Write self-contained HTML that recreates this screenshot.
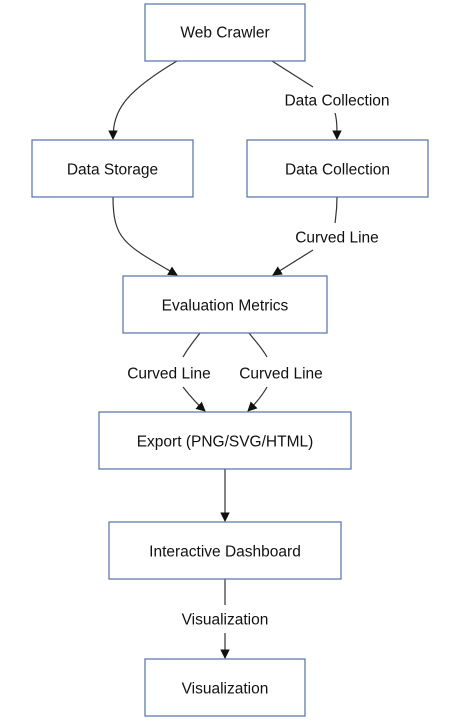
<!DOCTYPE html>
<html><head><meta charset="utf-8"><style>
html,body{margin:0;padding:0;background:#fff;}
svg{display:block;}
text{font-family:"Liberation Sans","DejaVu Sans",sans-serif;font-size:15.5px;fill:#111;text-anchor:middle;dominant-baseline:central;}
rect{fill:#fff;stroke:#5470a8;stroke-width:1.2;}
path.e{fill:none;stroke:#333;stroke-width:1.2;}
</style></head><body>
<svg width="472" height="726" viewBox="0 0 472 726">
<defs><marker id="a" viewBox="0 0 10 10" refX="9" refY="5" markerWidth="8" markerHeight="8" orient="auto"><path d="M0,0L10,5L0,10z" fill="#111"/></marker></defs>
<path class="e" d="M177,61 C125,92 113,110 113,139" marker-end="url(#a)"/>
<path class="e" d="M272,61 L313,87"/>
<path class="e" d="M335,113 C337,120 337,128 337,139" marker-end="url(#a)"/>
<path class="e" d="M113,197 C113,240 125,245 177,275" marker-end="url(#a)"/>
<path class="e" d="M337,197 C337,210 336,215 335,223"/>
<path class="e" d="M313,250 L273,275" marker-end="url(#a)"/>
<path class="e" d="M200,333 C193,342 188,348 183,357"/>
<path class="e" d="M183,387 C190,396 196,403 205,411" marker-end="url(#a)"/>
<path class="e" d="M249,333 C256,342 262,348 267,357"/>
<path class="e" d="M267,387 C262,396 256,403 248,411" marker-end="url(#a)"/>
<path class="e" d="M225,469 L225,521" marker-end="url(#a)"/>
<path class="e" d="M225,579 L225,605"/>
<path class="e" d="M225,633 L225,658" marker-end="url(#a)"/>
<rect x="145" y="4" width="160" height="57"/><text x="225" y="33">Web Crawler</text>
<rect x="32" y="140" width="161" height="57"/><text x="112.5" y="170">Data Storage</text>
<rect x="247" y="140" width="181" height="57"/><text x="337.5" y="170">Data Collection</text>
<rect x="123" y="276" width="204" height="57"/><text x="225" y="306">Evaluation Metrics</text>
<rect x="99" y="412" width="252" height="57"/><text x="225" y="442">Export (PNG/SVG/HTML)</text>
<rect x="109" y="522" width="232" height="57"/><text x="225" y="552">Interactive Dashboard</text>
<rect x="145" y="659" width="160" height="57"/><text x="225" y="689">Visualization</text>
<text x="337" y="101">Data Collection</text>
<text x="337" y="238">Curved Line</text>
<text x="169" y="374">Curved Line</text>
<text x="281" y="374">Curved Line</text>
<text x="225" y="620">Visualization</text>
</svg>
</body></html>
